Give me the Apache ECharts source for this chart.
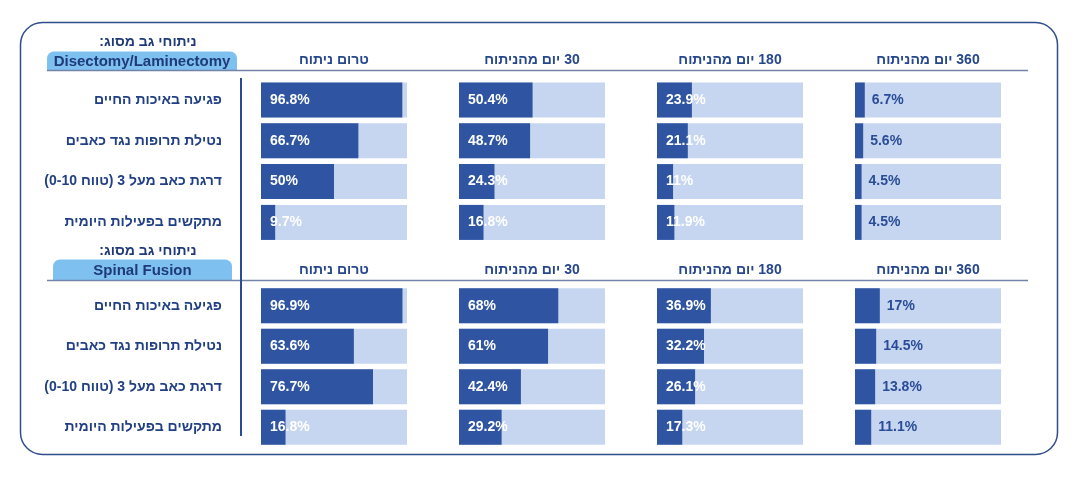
<!DOCTYPE html>
<html>
<head>
<meta charset="utf-8">
<script src="https://cdn.jsdelivr.net/npm/echarts@6/dist/echarts.min.js"></script>
<style>
html,body{margin:0;padding:0;background:#ffffff;}
#chart{width:1078px;height:477px;}
</style>
</head>
<body>
<div id="chart"></div>
<script>
// ---- data ----
const columns = ['טרום ניתוח', '30 יום מהניתוח', '180 יום מהניתוח', '360 יום מהניתוח'];
const rowLabels = ['פגיעה באיכות החיים', 'נטילת תרופות נגד כאבים', 'דרגת כאב מעל 3 (טווח 0-10)', 'מתקשים בפעילות היומית'];
const panelTitle = 'ניתוחי גב מסוג:';
const panelNames = ['Disectomy/Laminectomy', 'Spinal Fusion'];

const discPre = [96.8, 66.7, 50, 9.7];
const disc30 = [50.4, 48.7, 24.3, 16.8];
const disc180 = [23.9, 21.1, 11, 11.9];
const disc360 = [6.7, 5.6, 4.5, 4.5];

const fusionPre = [96.9, 63.6, 76.7, 16.8];
const fusion30 = [68, 61, 42.4, 29.2];
const fusion180 = [36.9, 32.2, 26.1, 17.3];
const fusion360 = [17, 14.5, 13.8, 11.1];

const panels = [
  [discPre, disc30, disc180, disc360],
  [fusionPre, fusion30, fusion180, fusion360]
];

// ---- layout / style ----
const FONT = "'Liberation Sans', 'DejaVu Sans', Arial, sans-serif";
const NAVY = '#213f84';
const DARK = '#2e54a2';
const LIGHT = '#c6d6f0';
const colLeft = [261, 459, 657, 855];
const colWidth = 146;
const panelTop = [79.6, 285.5];
const panelHeight = [163.2, 162];
const headerY = [60, 270];
const titleY = [42, 251];
const pills = [
  {x: 47, y: 51.5, w: 190, h: 19.5},
  {x: 53, y: 259.5, w: 179, h: 21}
];
const lineY = [70.5, 280.5];

// Hebrew text is laid out right to left (right-to-left embedding)
const rtl = s => '\u202B' + s + '\u202C';

const grid = [], xAxis = [], yAxis = [], series = [];
panels.forEach((cols, p) => {
  cols.forEach((vals, c) => {
    const idx = grid.length;
    grid.push({left: colLeft[c], width: colWidth, top: panelTop[p], height: panelHeight[p], containLabel: false});
    xAxis.push({type: 'value', gridIndex: idx, min: 0, max: 100, show: false});
    yAxis.push({
      type: 'category', gridIndex: idx, data: rowLabels, inverse: true,
      axisLine: {show: false}, axisTick: {show: false}, splitLine: {show: false},
      axisLabel: {
        show: c === 0, margin: 39, color: NAVY, fontFamily: FONT, fontSize: 14, fontWeight: 'bold',
        formatter: v => rtl(v)
      }
    });
    const last = c === 3;
    series.push({
      type: 'bar', xAxisIndex: idx, yAxisIndex: idx, data: vals, barWidth: 35,
      showBackground: true, backgroundStyle: {color: LIGHT},
      itemStyle: {color: DARK},
      silent: true, animation: false,
      label: {
        show: true,
        position: last ? 'right' : 'insideLeft',
        distance: last ? 7 : 9,
        color: last ? '#2a4c98' : '#ffffff',
        fontFamily: FONT, fontSize: 14, fontWeight: 'bold',
        formatter: '{c}%'
      }
    });
  });
});

function hebText(x, y, text, color) {
  return {
    type: 'text', x: x, y: y, silent: true,
    style: {text: rtl(text), fill: color, font: 'bold 14px ' + FONT, textAlign: 'center', textVerticalAlign: 'middle'}
  };
}

const graphic = [];
graphic.push({type: 'rect', shape: {x: 20.5, y: 22.5, width: 1037, height: 432, r: 22},
  style: {fill: 'none', stroke: '#2f4d8c', lineWidth: 1.5}, silent: true});
[0, 1].forEach(p => {
  const pl = pills[p];
  graphic.push({type: 'rect', shape: {x: pl.x, y: pl.y, width: pl.w, height: pl.h, r: [7, 7, 0, 0]},
    style: {fill: '#7ec1f0'}, silent: true});
  graphic.push({type: 'text', x: pl.x + pl.w / 2, y: pl.y + pl.h / 2 + 0.5,
    style: {text: panelNames[p], fill: '#1f3a78', font: 'bold 15px ' + FONT, textAlign: 'center', textVerticalAlign: 'middle'}, silent: true});
  graphic.push(hebText(148, titleY[p], panelTitle, '#1f3a78'));
  graphic.push({type: 'line', shape: {x1: 47, y1: lineY[p], x2: 1028, y2: lineY[p]},
    style: {stroke: '#7383a8', lineWidth: 1.5}, silent: true});
  columns.forEach((h, c) => {
    graphic.push(hebText(colLeft[c] + colWidth / 2, headerY[p], h, '#26478d'));
  });
});
graphic.push({type: 'line', shape: {x1: 241, y1: 78, x2: 241, y2: 436},
  style: {stroke: '#2a4a95', lineWidth: 2}, silent: true});

const chart = echarts.init(document.getElementById('chart'), null, {renderer: 'canvas'});
chart.setOption({
  backgroundColor: '#ffffff',
  animation: false,
  grid, xAxis, yAxis, series, graphic
});
</script>
</body>
</html>
